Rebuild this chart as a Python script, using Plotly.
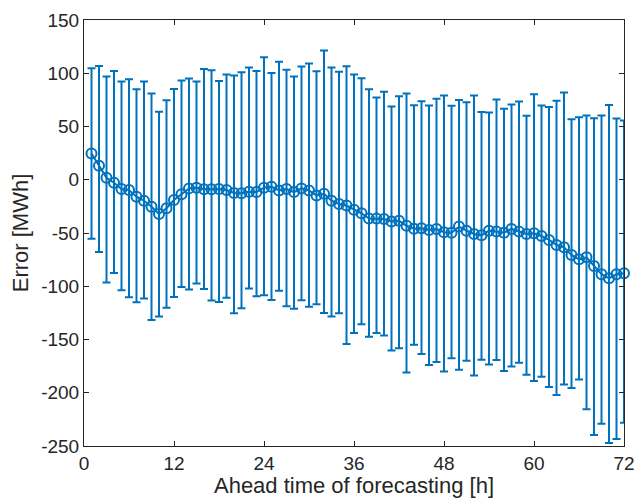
import plotly.graph_objects as go

hours = list(range(1, 73))

mean_err = [24.7, 13.2, 1.9, -2.8, -8.7, -9.7, -15.9, -19.7, -25.3, -32.2,
            -26.8, -19.0, -13.7, -8.1, -7.5, -9.0, -9.0, -8.7, -9.7, -12.4,
            -12.7, -11.2, -11.5, -7.5, -6.5, -10.0, -8.7, -11.6, -8.1, -10.0,
            -14.7, -13.2, -19.7, -22.8, -24.2, -28.1, -31.5, -36.5, -36.5, -36.8,
            -39.2, -38.5, -43.2, -46.0, -45.6, -47.2, -46.2, -49.2, -49.7, -44.0,
            -47.8, -50.9, -52.2, -47.8, -48.7, -49.7, -46.2, -48.7, -50.9, -50.3,
            -52.8, -56.5, -61.2, -63.4, -70.6, -74.7, -72.8, -80.9, -88.7, -92.5,
            -88.7, -87.8]

upper_err = [104.7, 106.9, 96.9, 102.2, 92.2, 94.4, 85.0, 92.2, 81.0, 63.8,
             74.7, 85.3, 93.2, 95.0, 92.2, 104.1, 102.8, 92.8, 98.8, 97.8,
             101.0, 105.3, 102.2, 115.0, 100.3, 110.7, 103.2, 96.9, 106.3, 109.1,
             101.9, 121.3, 105.3, 101.3, 106.6, 98.8, 95.3, 85.0, 77.2, 82.6,
             68.8, 78.5, 81.0, 70.0, 73.8, 69.7, 76.0, 79.2, 69.4, 75.0,
             72.8, 79.1, 63.5, 63.2, 75.3, 66.6, 70.7, 73.5, 60.0, 80.3,
             69.7, 68.2, 74.1, 81.9, 56.9, 58.8, 60.3, 57.8, 60.3, 70.3,
             57.5, 55.7]

lower_err = [-55.3, -67.8, -96.5, -87.5, -103.7, -110.3, -115.0, -111.5, -131.8, -128.4,
             -120.3, -110.0, -100.6, -103.1, -97.5, -102.5, -113.4, -114.7, -110.9, -125.3,
             -120.6, -102.2, -109.3, -108.5, -112.8, -104.3, -118.7, -121.2, -113.1, -119.3,
             -116.8, -125.0, -128.4, -125.3, -154.3, -144.0, -135.6, -147.5, -144.0, -146.2,
             -160.3, -158.1, -180.9, -155.0, -163.7, -174.0, -171.2, -180.0, -167.5, -178.4,
             -169.9, -183.7, -169.0, -173.4, -169.3, -179.6, -175.3, -171.8, -183.1, -189.0,
             -185.0, -194.6, -202.1, -192.2, -195.6, -187.5, -215.6, -239.6, -229.0, -247.2,
             -243.4, -228.1]

x_ticks = [0, 12, 24, 36, 48, 60, 72]
y_ticks = [150, 100, 50, 0, -50, -100, -150, -200, -250]

plus = [u - m for u, m in zip(upper_err, mean_err)]
minus = [m - l for m, l in zip(mean_err, lower_err)]

blue = "#0072BD"
axis_col = "#262626"

fig = go.Figure()
fig.add_trace(go.Scatter(
    x=hours, y=mean_err,
    mode="lines+markers",
    line=dict(color=blue, width=2),
    marker=dict(symbol="circle-open", size=10, color=blue, line=dict(width=2, color=blue)),
    error_y=dict(type="data", symmetric=False, array=plus, arrayminus=minus,
                 color=blue, thickness=2, width=4),
    showlegend=False,
    cliponaxis=False,
))

font_family = "Liberation Sans, Arial, Helvetica, sans-serif"

fig.update_layout(
    width=634, height=498,
    margin=dict(l=84, r=10, t=20, b=52, autoexpand=False),
    paper_bgcolor="white", plot_bgcolor="white",
    font=dict(family=font_family, size=19, color=axis_col),
    xaxis=dict(
        range=[0, 72], tickvals=x_ticks, ticktext=[str(v) for v in x_ticks],
        showgrid=False, zeroline=False,
        showline=True, linecolor=axis_col, linewidth=1, mirror="ticks",
        ticks="inside", ticklen=5, tickcolor=axis_col, tickwidth=1,
        title=dict(text="Ahead time of forecasting [h]", standoff=0,
                   font=dict(size=22, color=axis_col)),
        tickfont=dict(size=19, color=axis_col),
        ticklabeloverflow="allow",
        automargin=False,
    ),
    yaxis=dict(
        range=[-250, 150], tickvals=y_ticks, ticktext=[str(v) for v in y_ticks],
        showgrid=False, zeroline=False,
        showline=True, linecolor=axis_col, linewidth=1, mirror="ticks",
        ticks="inside", ticklen=5, tickcolor=axis_col, tickwidth=1,
        title=dict(text="Error [MWh]", standoff=6,
                   font=dict(size=22, color=axis_col)),
        tickfont=dict(size=19, color=axis_col),
        ticklabeloverflow="allow",
        automargin=False,
    ),
)

fig.write_html("out.html", config={"displayModeBar": False},
               post_script="document.body.style.margin='0px';")
